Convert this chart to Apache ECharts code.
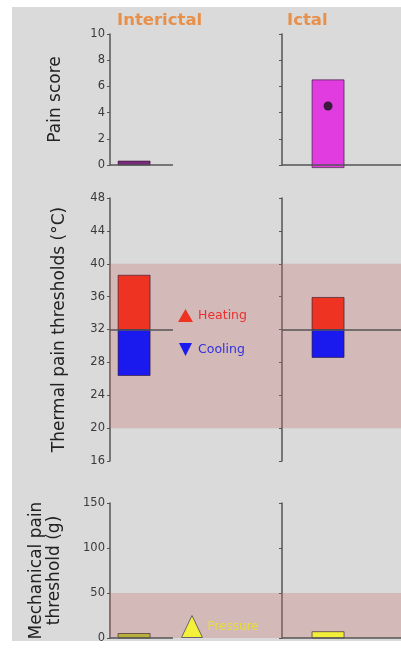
<!DOCTYPE html>
<html>
<head>
<meta charset="utf-8">
<script src="https://cdn.jsdelivr.net/npm/echarts@6/dist/echarts.min.js"></script>
<style>
  html, body { margin: 0; padding: 0; background: #fff; }
  #chart { width: 401px; height: 649px; }
</style>
</head>
<body>
<div id="chart"></div>
<script>
// conditions (left column, right column)
const conditions = ['Interictal', 'Ictal'];

// pain score range and mean
const painLow = [0, -0.2];
const painHigh = [0.3, 6.5];
const painMean = [null, 4.5];
const painTicks = [0, 10, 2];

// thermal thresholds (deg C), baseline skin temperature 32
const thermalBaseline = 32;
const heatThreshold = [38.6, 35.9];
const coolThreshold = [26.4, 28.6];
const thermalNormal = [20, 40];
const thermalTicks = [16, 48, 4];

// mechanical pain threshold (g)
const pressureThreshold = [5, 7];
const mechNormal = [0, 50];
const mechTicks = [0, 150, 50];

// layout helpers (not data)
const barX = [0.14, 0.387];
const baseEnd = [0.366, 1];
const font = 'DejaVu Sans';
const axisColor = '#555';
const bandColor = 'rgba(200, 110, 110, 0.3)';
const pressureColors = ['#b9b03c', '#f2ee3a'];
const painColors = ['#7a2a7a', '#e03ce0'];

const chart = echarts.init(document.getElementById('chart'));

const rows = [
  { top: 34, height: 131 },
  { top: 198, height: 263 },
  { top: 503, height: 135 }
];
const grids = [];
rows.forEach(r => {
  grids.push({ left: 110, top: r.top, width: 172, height: r.height });
  grids.push({ left: 282, top: r.top, width: 119, height: r.height });
});

const xAxes = grids.map((g, i) => ({
  type: 'value', gridIndex: i, min: 0, max: 1, show: false
}));

function yAxis(i, ticks, name, nameGap) {
  const left = i % 2 === 0;
  return {
    type: 'value', gridIndex: i, min: ticks[0], max: ticks[1], interval: ticks[2],
    splitLine: { show: false },
    axisLine: { show: true, onZero: false, lineStyle: { color: axisColor, width: 1.5 } },
    axisTick: { show: true, length: 3, lineStyle: { color: axisColor } },
    axisLabel: { show: left, color: '#3a3a3a', fontFamily: font, fontSize: 11.5, margin: 5 },
    name: left ? name : '',
    nameLocation: 'middle',
    nameRotate: 90,
    nameGap: nameGap,
    nameTextStyle: { color: '#222', fontFamily: font, fontSize: 17, lineHeight: 18 }
  };
}

const yAxes = [
  yAxis(0, painTicks, 'Pain score', 45),
  yAxis(1, painTicks, ''),
  yAxis(2, thermalTicks, 'Thermal pain thresholds (°C)', 41),
  yAxis(3, thermalTicks, ''),
  yAxis(4, mechTicks, 'Mechanical pain\nthreshold (g)', 46),
  yAxis(5, mechTicks, '')
];

// range bar drawn through the axis scales
function rangeBar(colorFor) {
  return function (params, api) {
    const x = api.value(0);
    const lo = api.coord([x, api.value(1)]);
    const hi = api.coord([x, api.value(2)]);
    const w = 32;
    return {
      type: 'rect',
      shape: { x: lo[0] - w / 2, y: hi[1], width: w, height: lo[1] - hi[1] },
      style: { fill: colorFor(params), stroke: 'rgba(40,20,40,0.6)', lineWidth: 1 }
    };
  };
}

function baseLine(i, y) {
  return {
    symbol: 'none', silent: true, animation: false,
    label: { show: false },
    lineStyle: { color: axisColor, width: 1.5, type: 'solid' },
    data: [[{ coord: [0, y] }, { coord: [baseEnd[i], y] }]]
  };
}

function band(range) {
  return {
    silent: true,
    itemStyle: { color: bandColor },
    data: [[{ yAxis: range[0] }, { yAxis: range[1] }]]
  };
}

const series = [];
conditions.forEach((c, i) => {
  // pain score
  series.push({
    name: 'Pain ' + c, type: 'custom', xAxisIndex: i, yAxisIndex: i,
    renderItem: rangeBar(() => painColors[i]),
    data: [[barX[i], painLow[i], painHigh[i]]],
    markLine: baseLine(i, 0),
    z: 3
  });
  if (painMean[i] != null) {
    series.push({
      name: 'Mean ' + c, type: 'scatter', xAxisIndex: i, yAxisIndex: i,
      symbolSize: 9, itemStyle: { color: '#111' },
      data: [[barX[i], painMean[i]]], z: 5
    });
  }
  // thermal
  series.push({
    name: 'Heating', type: 'custom', xAxisIndex: 2 + i, yAxisIndex: 2 + i,
    itemStyle: { color: '#ee3322' },
    renderItem: rangeBar(() => '#ee3322'),
    data: [[barX[i], thermalBaseline, heatThreshold[i]]],
    markArea: band(thermalNormal),
    z: 3
  });
  series.push({
    name: 'Cooling', type: 'custom', xAxisIndex: 2 + i, yAxisIndex: 2 + i,
    itemStyle: { color: '#1a1aee' },
    renderItem: rangeBar(() => '#1a1aee'),
    data: [[barX[i], coolThreshold[i], thermalBaseline]],
    markLine: baseLine(i, thermalBaseline),
    z: 3
  });
  // mechanical
  series.push({
    name: 'Pressure', type: 'custom', xAxisIndex: 4 + i, yAxisIndex: 4 + i,
    itemStyle: { color: '#f2ee3a' },
    renderItem: rangeBar(() => pressureColors[i]),
    data: [[barX[i], 0, pressureThreshold[i]]],
    markArea: band(mechNormal),
    markLine: baseLine(i, 0),
    z: 3
  });
});

chart.setOption({
  animation: false,
  backgroundColor: '#fff',
  graphic: [{
    type: 'rect', left: 12, top: 7, z: -10,
    shape: { width: 389, height: 634 },
    style: { fill: '#dadada' }
  }],
  title: [
    { text: 'Interictal', left: 112, top: 7,
      textStyle: { color: '#e8904a', fontFamily: font, fontSize: 16.5, fontWeight: 'bold' } },
    { text: 'Ictal', left: 282, top: 7,
      textStyle: { color: '#e8904a', fontFamily: font, fontSize: 16.5, fontWeight: 'bold' } }
  ],
  legend: [
    {
      orient: 'vertical', left: 173, top: 304, itemGap: 21,
      itemWidth: 15, itemHeight: 13, selectedMode: false,
      textStyle: { fontFamily: font, fontSize: 12.5 },
      data: [
        { name: 'Heating', icon: 'triangle', itemStyle: { color: '#ee3322' },
          textStyle: { color: '#e83030' } },
        { name: 'Cooling', icon: 'path://M0,0L10,0L5,10Z', itemStyle: { color: '#1a1aee' },
          textStyle: { color: '#3030dd' } }
      ]
    },
    {
      left: 176, top: 610, itemWidth: 21, itemHeight: 22, itemGap: 4, selectedMode: false,
      textStyle: { fontFamily: font, fontSize: 12, color: '#e6dc3a', padding: [16, 0, 0, 0] },
      data: [
        { name: 'Pressure', icon: 'triangle',
          itemStyle: { color: '#f5f03a', borderColor: '#666', borderWidth: 1 } }
      ]
    }
  ],
  grid: grids,
  xAxis: xAxes,
  yAxis: yAxes,
  series: series
});
</script>
</body>
</html>
